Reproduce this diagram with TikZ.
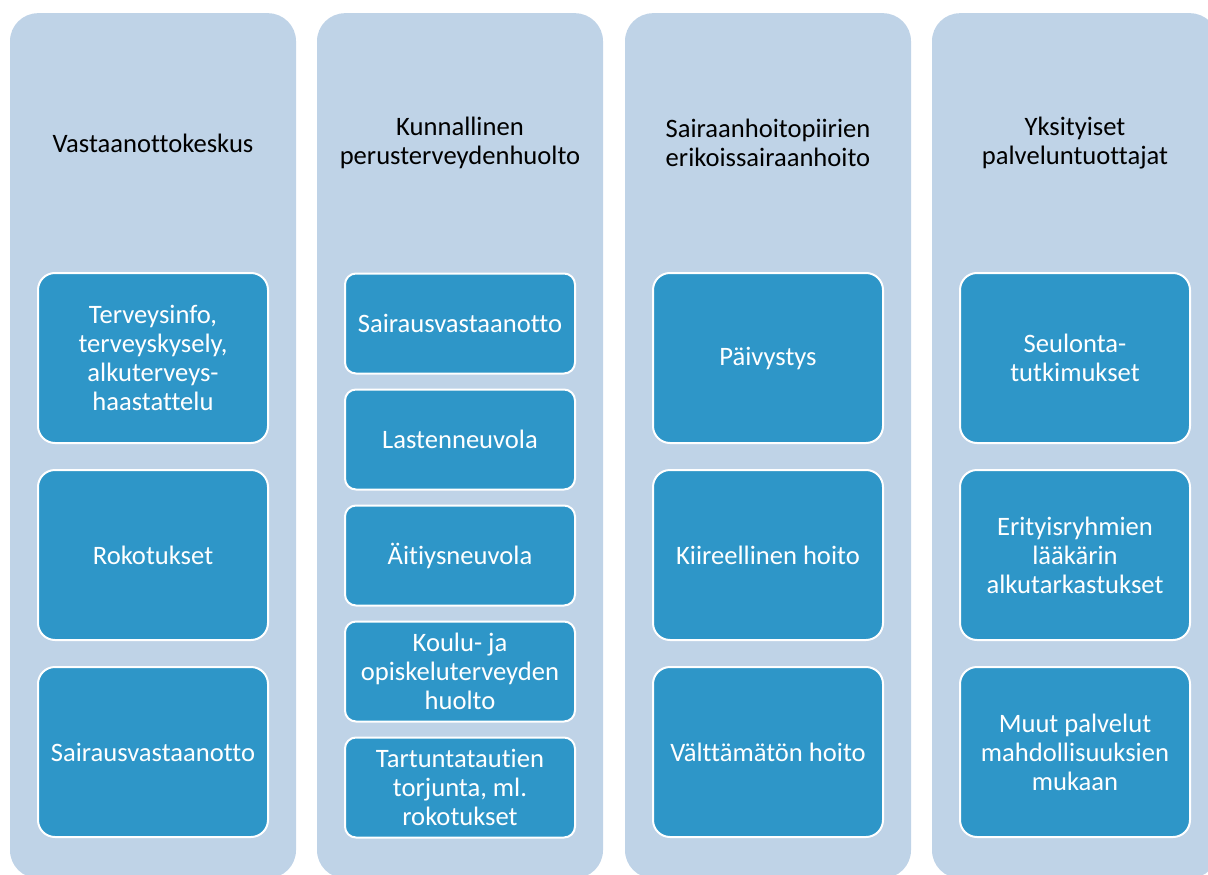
\documentclass[tikz,border=0pt]{standalone}
\usepackage{fontspec}
\setmainfont{Carlito}[Ligatures={NoCommon}]
\definecolor{colbg}{RGB}{191,211,231}
\definecolor{childblue}{RGB}{46,150,200}
\begin{document}
\begin{tikzpicture}[x=1pt,y=-1pt,
  colbox/.style={fill=colbg, draw=none, rounded corners=28pt, minimum width=286pt, minimum height=865pt, anchor=north, inner sep=0pt},
  coltitle/.style={align=center, text=black, font=\fontsize{26.6}{29}\selectfont, inner sep=0pt},
  child/.style={fill=childblue, draw=white, line width=2pt, text=white, align=center, font=\fontsize{26.6}{29}\selectfont, minimum width=230pt, inner sep=0pt},
  bigchild/.style={child, minimum height=170pt, rounded corners=17pt},
  smallchild/.style={child, minimum height=100pt, rounded corners=11pt}]
\useasboundingbox (0,0) rectangle (1208,875);
\clip (0,0) rectangle (1208,875);
% columns
\node[colbox] (c1) at (153,13) {};
\node[colbox] (c2) at (460,13) {};
\node[colbox] (c3) at (768,13) {};
\node[colbox] (c4) at (1075,13) {};
% titles
\node[coltitle] (t1) at (153,143) {Vastaanottokeskus};
\node[coltitle] (t2) at (460,143) {Kunnallinen\\perusterveydenhuolto};
\node[coltitle] (t3) at (768,143) {Sairaanhoitopiirien\\erikoissairaanhoito};
\node[coltitle] (t4) at (1075,143) {Yksityiset\\palveluntuottajat};
% column 1
\node[bigchild] (a1) at (153,358) {Terveysinfo,\\terveyskysely,\\alkuterveys-\\haastattelu};
\node[bigchild] (a2) at (153,555) {Rokotukset};
\node[bigchild] (a3) at (153,752) {Sairausvastaanotto};
% column 2
\node[smallchild] (b1) at (460,323.5) {Sairausvastaanotto};
\node[smallchild] (b2) at (460,439.5) {Lastenneuvola};
\node[smallchild] (b3) at (460,555.5) {Äitiysneuvola};
\node[smallchild] (b4) at (460,671.5) {Koulu- ja\\opiskeluterveyden\\huolto};
\node[smallchild] (b5) at (460,787.5) {Tartuntatautien\\torjunta, ml.\\rokotukset};
% column 3
\node[bigchild] (d1) at (768,358) {Päivystys};
\node[bigchild] (d2) at (768,555) {Kiireellinen hoito};
\node[bigchild] (d3) at (768,752) {Välttämätön hoito};
% column 4
\node[bigchild] (e1) at (1075,358) {Seulonta-\\tutkimukset};
\node[bigchild] (e2) at (1075,555) {Erityisryhmien\\lääkärin\\alkutarkastukset};
\node[bigchild] (e3) at (1075,752) {Muut palvelut\\mahdollisuuksien\\mukaan};
\end{tikzpicture}
\end{document}
